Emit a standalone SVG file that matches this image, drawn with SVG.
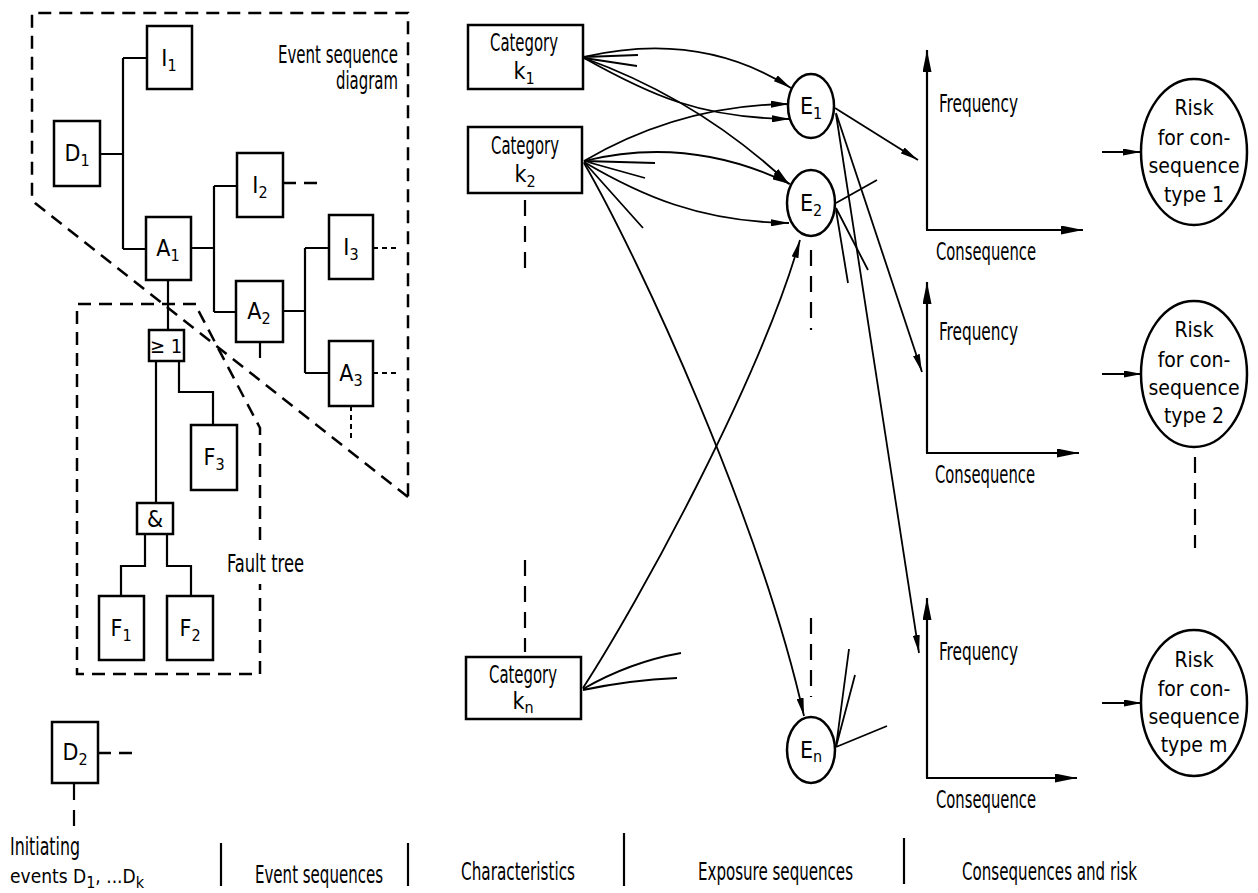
<svg xmlns="http://www.w3.org/2000/svg" width="1258" height="893" viewBox="0 0 1258 893">
<defs>
<style>
.box{fill:#fff;stroke:#000;stroke-width:2.5}
.ln{fill:none;stroke:#000;stroke-width:2.2}
.thin{fill:none;stroke:#000;stroke-width:1.8}
.dash{fill:none;stroke:#000;stroke-width:2.5;stroke-dasharray:13 8}
.vdash{fill:none;stroke:#000;stroke-width:2.2;stroke-dasharray:16 10}
.dot{fill:none;stroke:#000;stroke-width:2;stroke-dasharray:5 4}
.sep{stroke:#000;stroke-width:2.2}
text{font-family:"Liberation Sans Narrow","DejaVu Sans Condensed","Liberation Sans",sans-serif;font-size:24px;fill:#000}
.c{text-anchor:middle}
.r{text-anchor:end}
.n{font-size:23px}
.s{font-size:16px}
.rk{font-size:21px}
</style>
<marker id="arr" markerUnits="userSpaceOnUse" markerWidth="18" markerHeight="7" refX="18" refY="3.5" orient="auto" viewBox="0 0 18 7">
<path d="M0,0 L18,3.5 L0,7 Z" fill="#000"/>
</marker>
<marker id="ax" markerUnits="userSpaceOnUse" markerWidth="22" markerHeight="9" refX="22" refY="4.5" orient="auto" viewBox="0 0 22 9">
<path d="M0,0 L22,4.5 L0,9 Z" fill="#000"/>
</marker>
</defs>
<rect width="1258" height="893" fill="#fff"/>

<!-- boundaries of the event sequence diagram and the fault tree -->
<g id="boundaries">
<path class="dash" d="M408,497 L35,203 Q32,200 32,196 L32,13 L408,13 Z"/>
<path class="dash" d="M196,304 L77,304 L77,674 L260,674 L260,584 M260,540 L260,428 L196,306"/>
<text class="r" x="398" y="63" textLength="120" lengthAdjust="spacingAndGlyphs">Event sequence</text>
<text class="r" x="398" y="89" textLength="62" lengthAdjust="spacingAndGlyphs">diagram</text>
<text x="227" y="572" textLength="77" lengthAdjust="spacingAndGlyphs">Fault tree</text>
</g>

<!-- connectors -->
<g id="connectors">
<!-- event sequence tree -->
<path class="ln" d="M100,154 H123 M123,58 V249 M123,58 H147 M123,249 H146"/>
<path class="ln" d="M191,248 H214 M214,186 V312 M214,186 H237 M214,312 H236"/>
<path class="ln" d="M283,311 H305 M305,248 V373 M305,248 H329 M305,373 H329"/>
<path class="dash" d="M283,183 H323"/>
<path class="dot" d="M373,248 H398 M373,373 H398"/>
<path class="dot" d="M351,406 V438"/>
<path class="vdash" d="M260,342 V368"/>
<!-- fault tree -->
<path class="ln" d="M168,280 V330"/>
<path class="ln" d="M156,361 V503 M179,361 V392 H213 V425"/>
<path class="ln" d="M145,534 V566 H121 V596 M167,534 V566 H191 V596"/>
<!-- second initiating event -->
<path class="dash" d="M98,753 H136"/>
<path class="vdash" d="M74,784 V830"/>

<!-- characteristics to exposure sequences -->
<path class="thin" marker-end="url(#arr)" d="M584,57 Q700,30 791,88"/>
<path class="thin" marker-end="url(#arr)" d="M584,58 C650,95 700,118 790,119"/>
<path class="thin" marker-end="url(#arr)" d="M584,58 Q700,100 789,184"/>
<path class="thin" d="M584,57 L638,55 M584,58 L637,66"/>
<path class="thin" marker-end="url(#arr)" d="M584,161 Q680,105 789,104"/>
<path class="thin" marker-end="url(#arr)" d="M584,161 Q690,135 790,184"/>
<path class="thin" marker-end="url(#arr)" d="M584,162 C640,195 700,222 789,223"/>
<path class="thin" d="M584,161 L655,163 M584,161 L645,178 M584,162 L643,228"/>
<path class="thin" marker-end="url(#arr)" d="M584,163 C640,260 760,520 804,716"/>
<path class="thin" marker-end="url(#arr)" d="M583,688 C640,600 760,380 800,240"/>
<path class="thin" d="M583,689 Q630,662 681,653 M583,690 Q630,680 677,678"/>
<path class="vdash" d="M525,200 V278 M525,560 V652"/>
<path class="vdash" d="M811,250 V330 M811,618 V697"/>

<!-- exposure sequences to consequence distributions -->
<path class="thin" marker-end="url(#arr)" d="M835,108 L918,160"/>
<path class="thin" marker-end="url(#arr)" d="M836,113 L922,372"/>
<path class="thin" marker-end="url(#arr)" d="M836,114 L919,653"/>
<path class="thin" d="M836,203 L877,180 M836,208 L868,270 M836,210 L848,283"/>
<path class="thin" d="M836,747 L849,649 M836,747 L855,675 M836,747 L887,726"/>

<!-- consequence distributions to risk -->
<path class="ln" marker-end="url(#arr)" d="M1102,152 H1141"/>
<path class="ln" marker-end="url(#arr)" d="M1102,374 H1142"/>
<path class="ln" marker-end="url(#arr)" d="M1102,703 H1142"/>
<path class="vdash" d="M1195,457 V548"/>
</g>

<!-- initiating events, event sequence nodes -->
<g id="D1"><rect class="box" x="54" y="121" width="46" height="65"/><text class="c n" x="77" y="161">D<tspan class="s" dy="5">1</tspan></text></g>
<g id="I1"><rect class="box" x="147" y="26" width="45" height="63"/><text class="c n" x="169" y="66">I<tspan class="s" dy="5">1</tspan></text></g>
<g id="A1"><rect class="box" x="146" y="217" width="45" height="63"/><text class="c n" x="168" y="256">A<tspan class="s" dy="5">1</tspan></text></g>
<g id="I2"><rect class="box" x="237" y="153" width="46" height="64"/><text class="c n" x="260" y="193">I<tspan class="s" dy="5">2</tspan></text></g>
<g id="A2"><rect class="box" x="236" y="281" width="47" height="61"/><text class="c n" x="259" y="319">A<tspan class="s" dy="5">2</tspan></text></g>
<g id="I3"><rect class="box" x="329" y="215" width="44" height="64"/><text class="c n" x="351" y="255">I<tspan class="s" dy="5">3</tspan></text></g>
<g id="A3"><rect class="box" x="329" y="341" width="44" height="65"/><text class="c n" x="351" y="381">A<tspan class="s" dy="5">3</tspan></text></g>
<g id="D2"><rect class="box" x="52" y="722" width="46" height="61"/><text class="c n" x="75" y="760">D<tspan class="s" dy="5">2</tspan></text></g>

<!-- fault tree nodes -->
<g id="gate-or"><rect class="box" x="149" y="330" width="35" height="31"/><text class="c" x="166" y="353" style="font-size:20px">≥ 1</text></g>
<g id="gate-and"><rect class="box" x="137" y="503" width="36" height="31"/><text class="c n" x="155" y="527">&amp;</text></g>
<g id="F3"><rect class="box" x="191" y="425" width="46" height="65"/><text class="c n" x="214" y="465">F<tspan class="s" dy="5">3</tspan></text></g>
<g id="F1"><rect class="box" x="99" y="596" width="45" height="64"/><text class="c n" x="121" y="636">F<tspan class="s" dy="5">1</tspan></text></g>
<g id="F2"><rect class="box" x="167" y="596" width="46" height="64"/><text class="c n" x="190" y="636">F<tspan class="s" dy="5">2</tspan></text></g>

<!-- characteristic categories -->
<g id="cat-k1"><rect class="box" x="468" y="25" width="115" height="64"/><text class="c" x="524" y="51" textLength="68" lengthAdjust="spacingAndGlyphs">Category</text><text class="c n" x="524" y="79">k<tspan class="s" dy="5">1</tspan></text></g>
<g id="cat-k2"><rect class="box" x="468" y="127" width="114" height="66"/><text class="c" x="525" y="154" textLength="68" lengthAdjust="spacingAndGlyphs">Category</text><text class="c n" x="525" y="182">k<tspan class="s" dy="5">2</tspan></text></g>
<g id="cat-kn"><rect class="box" x="466" y="657" width="115" height="62"/><text class="c" x="523" y="683" textLength="68" lengthAdjust="spacingAndGlyphs">Category</text><text class="c n" x="523" y="709">k<tspan class="s" dy="4">n</tspan></text></g>

<!-- exposure sequences -->
<g id="E1"><ellipse class="box" cx="811" cy="106" rx="23" ry="32"/><text class="c n" x="811" y="114">E<tspan class="s" dy="5">1</tspan></text></g>
<g id="E2"><ellipse class="box" cx="811" cy="203" rx="24" ry="33"/><text class="c n" x="811" y="211">E<tspan class="s" dy="5">2</tspan></text></g>
<g id="En"><ellipse class="box" cx="811" cy="750" rx="24" ry="33"/><text class="c n" x="811" y="758">E<tspan class="s" dy="4">n</tspan></text></g>

<!-- consequence distributions -->
<g id="chart-1">
<line class="ln" x1="927" y1="230" x2="927" y2="50" marker-end="url(#ax)"/>
<line class="ln" x1="926" y1="230" x2="1083" y2="230" marker-end="url(#ax)"/>
<text x="939" y="112" textLength="79" lengthAdjust="spacingAndGlyphs">Frequency</text><text x="936" y="260" textLength="100" lengthAdjust="spacingAndGlyphs">Consequence</text>
</g>
<g id="chart-2">
<line class="ln" x1="927" y1="453" x2="927" y2="282" marker-end="url(#ax)"/>
<line class="ln" x1="926" y1="453" x2="1079" y2="453" marker-end="url(#ax)"/>
<text x="939" y="340" textLength="79" lengthAdjust="spacingAndGlyphs">Frequency</text><text x="935" y="483" textLength="100" lengthAdjust="spacingAndGlyphs">Consequence</text>
</g>
<g id="chart-m">
<line class="ln" x1="927" y1="778" x2="927" y2="598" marker-end="url(#ax)"/>
<line class="ln" x1="926" y1="778" x2="1077" y2="778" marker-end="url(#ax)"/>
<text x="939" y="660" textLength="79" lengthAdjust="spacingAndGlyphs">Frequency</text><text x="936" y="808" textLength="100" lengthAdjust="spacingAndGlyphs">Consequence</text>
</g>

<!-- risk per consequence type -->
<g id="risk-1"><ellipse class="box" cx="1194" cy="152" rx="53" ry="73"/>
<text class="c rk" x="1194" y="115">Risk</text><text class="c rk" x="1194" y="145">for con-</text><text class="c rk" x="1194" y="173">sequence</text><text class="c rk" x="1194" y="202">type 1</text></g>
<g id="risk-2"><ellipse class="box" cx="1194" cy="374" rx="53" ry="73"/>
<text class="c rk" x="1194" y="337">Risk</text><text class="c rk" x="1194" y="367">for con-</text><text class="c rk" x="1194" y="395">sequence</text><text class="c rk" x="1194" y="423">type 2</text></g>
<g id="risk-m"><ellipse class="box" cx="1194" cy="703" rx="53" ry="73"/>
<text class="c rk" x="1194" y="667">Risk</text><text class="c rk" x="1194" y="696">for con-</text><text class="c rk" x="1194" y="724">sequence</text><text class="c rk" x="1194" y="752">type m</text></g>

<!-- column captions -->
<g id="captions">
<text x="10" y="855" textLength="70" lengthAdjust="spacingAndGlyphs">Initiating</text>
<text x="10" y="883" style="font-size:19px">events D<tspan class="s" dy="5">1</tspan><tspan dy="-5">, ...D</tspan><tspan class="s" dy="5">k</tspan></text>
<line class="sep" x1="221" y1="843" x2="221" y2="886"/>
<text x="255" y="883" textLength="128" lengthAdjust="spacingAndGlyphs">Event sequences</text>
<line class="sep" x1="408" y1="843" x2="408" y2="886"/>
<text x="461" y="880" textLength="114" lengthAdjust="spacingAndGlyphs">Characteristics</text>
<line class="sep" x1="624" y1="833" x2="624" y2="886"/>
<text x="698" y="880" textLength="155" lengthAdjust="spacingAndGlyphs">Exposure sequences</text>
<line class="sep" x1="904" y1="838" x2="904" y2="884"/>
<text x="962" y="880" textLength="175" lengthAdjust="spacingAndGlyphs">Consequences and risk</text>
</g>
</svg>
